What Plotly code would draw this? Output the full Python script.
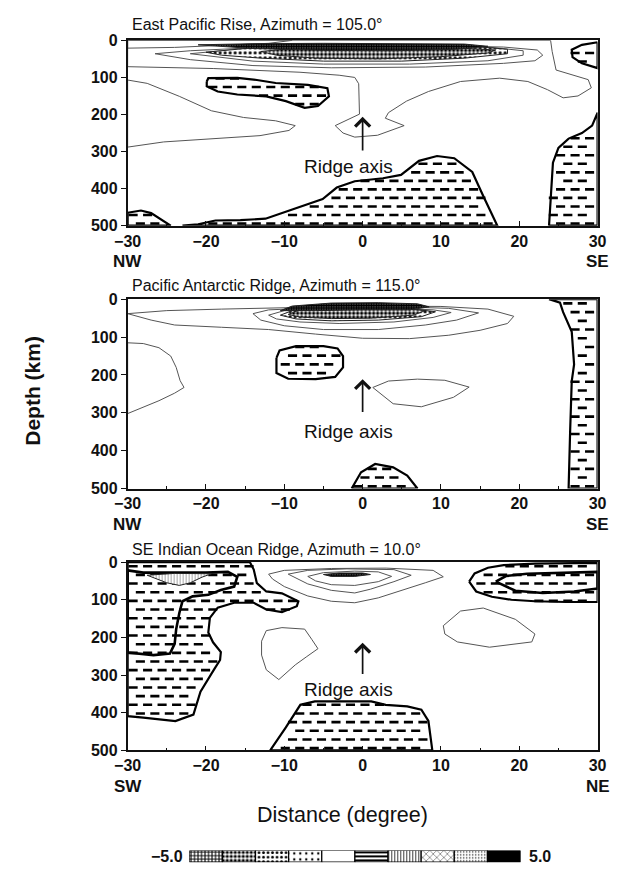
import plotly.graph_objects as go

# ---------------------------------------------------------------------------
# Contour outlines of the velocity anomaly, (distance in degrees, depth in km)
# ---------------------------------------------------------------------------

# East Pacific Rise, azimuth 105
p1_surface = [(-30, 0), (-30, 21), (-24, 19), (-18, 14), (-12, 8), (-9, 0)]
p1_outer = [(-30, 0), (-30, 71), (-19, 76), (-8, 86), (-3, 94), (-1, 100), (-0.5, 117),
            (-0.4, 160), (-0.4, 199), (-3.5, 230), (-2.5, 250), (-1, 261), (1.9, 256),
            (5.3, 230), (2.9, 210), (3.3, 195), (5.6, 164), (8.4, 138), (12.5, 111),
            (17.5, 102), (21.1, 111), (23.6, 133), (25.6, 155), (27.5, 150), (29.2, 128),
            (28.8, 106), (24.7, 80), (24.2, 30), (24.0, 0)]
p1_lens_a = [(-26.5, 36), (-22, 28), (-14, 20), (-4, 16), (8, 14), (18, 18), (22.3, 26),
             (23, 40), (22, 55), (18, 62), (8, 72), (-4, 74), (-14, 68), (-22, 52)]
p1_lens_b = [(-22, 36), (-16, 24), (-6, 16), (6, 14), (16, 18), (20.5, 28), (20.5, 40),
             (16, 55), (6, 64), (-5, 64), (-14, 56)]
p1_lens_c = [(-20, 32), (-14, 20), (-5, 14), (5, 13), (14, 16), (18.5, 24), (18.5, 36),
             (13, 48), (5, 56), (-5, 56), (-13, 48), (-18, 40)]
p1_lens_d = [(-13, 30), (-8, 20), (0, 16), (10, 18), (17, 26), (16, 34), (10, 44),
             (2, 50), (-6, 48), (-11, 40)]
p1_core = [(-21, 12), (-14, 9), (-5, 8), (5, 8), (13, 10), (16, 16), (12, 24), (4, 28),
           (-5, 27), (-14, 22)]
p1_tongue = [(-30, 107), (-27.5, 116), (-23.4, 151), (-19.3, 190), (-15.2, 208),
             (-11.1, 217), (-8.6, 230), (-9.4, 243), (-13.1, 257), (-19.3, 265),
             (-25.4, 274), (-30, 288)]
p1_pos_blob = [(-19.9, 111), (-19.7, 102), (-16, 101), (-13.5, 107), (-11.1, 115),
               (-7, 120), (-4.5, 129), (-4.3, 151), (-5.7, 177), (-7.4, 182),
               (-9.8, 164), (-12.3, 151), (-16, 146), (-18.5, 138), (-19.9, 124)]
p1_pos_corner = [(-30, 465), (-28.3, 459), (-27, 466), (-25.2, 490), (-24.5, 500), (-30, 500)]
p1_pos_bottom = [(-23, 500), (-21, 496), (-18.8, 486), (-15.6, 485), (-12.4, 481),
                 (-8.8, 455), (-5.1, 428), (-3.3, 397), (-1, 380), (2.6, 372),
                 (4.9, 363), (7.2, 325), (9.5, 312), (11.7, 318), (14, 355),
                 (15.4, 420), (16.7, 480), (17.2, 500)]
p1_pos_right = [(23.8, 500), (24.0, 420), (24.3, 330), (25, 290), (26.3, 265), (28, 250),
                (29.3, 230), (30, 195), (30, 500)]
p1_pos_topright = [(30, 5), (28, 12), (26.7, 25), (26.8, 45), (28, 62), (30, 75)]

# Pacific Antarctic Ridge, azimuth 115
p2_lens_a = [(-30, 38), (-25, 30), (-18, 26), (-10, 22), (0, 18), (10, 19), (16, 26),
             (19.3, 45), (18.5, 64), (15, 82), (11, 95), (6, 104), (0, 103), (-6, 92),
             (-12, 80), (-18, 74), (-24, 68), (-27, 55)]
p2_lens_b = [(-14, 38), (-12, 28), (-5, 22), (5, 20), (11, 24), (14.8, 36), (12, 55),
             (8, 68), (2, 80), (-5, 80), (-10, 70), (-13, 55)]
p2_lens_c = [(-12, 42), (-10, 30), (-4, 25), (5, 24), (9, 28), (11.3, 35), (9, 48),
             (4, 60), (-3, 64), (-8, 60), (-11, 52)]
p2_lens_d = [(-10.5, 42), (-9, 30), (-3, 22), (5, 22), (9.3, 33), (7.5, 46), (2, 55),
             (-4, 57), (-8.5, 52)]
p2_lens_e = [(-9.5, 40), (-8, 28), (-2, 22), (4, 22), (8, 30), (6.5, 42), (1, 50),
             (-4, 51), (-8, 47)]
p2_core = [(-10.5, 30), (-9, 18), (-4, 10), (2, 9), (7, 12), (8.5, 20), (6, 28), (0, 28),
           (-6, 30)]
p2_left = [(-30, 115), (-28, 117), (-26, 128), (-24.5, 150), (-23.8, 180), (-23.3, 215),
           (-22.8, 233), (-24, 248), (-26, 268), (-28.5, 290), (-30, 302)]
p2_right_lens = [(1.3, 233), (3.3, 216), (7, 211), (10.5, 214), (13.6, 232), (11.6, 259),
                 (7.5, 284), (3.9, 276)]
p2_pos_blob = [(-11, 155), (-10.6, 135), (-8.5, 124), (-5, 124), (-3.2, 130), (-2.5, 150),
               (-2.5, 180), (-3.5, 205), (-6, 211), (-9.5, 210), (-11, 195)]
p2_pos_bottom = [(-1.4, 500), (-0.2, 457), (1.6, 435), (3.9, 444), (5.7, 466), (7, 500)]
p2_pos_strip = [(23.8, 0), (25.2, 9), (25.6, 34), (26.7, 86), (27, 172), (26.7, 216),
                (26.5, 345), (26.3, 500), (30, 500), (30, 0)]

# SE Indian Ocean Ridge, azimuth 10
p3_lens_a = [(-12, 32), (-10, 22), (-4, 17), (3, 16), (9, 22), (10.3, 39), (8, 55),
             (5, 75), (2, 95), (-1, 108), (-4, 104), (-7, 90), (-10, 65), (-11.5, 45)]
p3_lens_b = [(-9.5, 32), (-7, 22), (-2, 18), (4, 20), (6.2, 35), (4, 52), (1, 72),
             (-1, 82), (-4, 75), (-7, 58)]
p3_lens_c = [(-7, 38), (-5, 28), (-1, 24), (2, 26), (3.7, 38), (2, 52), (-1, 62),
             (-4, 60), (-6, 50)]
p3_core = [(-5, 33), (-3, 29), (0, 29), (1, 33), (-1, 38), (-4, 38)]
p3_left_lens = [(-12.9, 210), (-12.3, 182), (-10.3, 174), (-7.4, 178), (-6.5, 205),
                (-5.7, 230), (-7.2, 252), (-8.6, 273), (-10.7, 312), (-12.3, 286),
                (-12.9, 247)]
p3_right_lens = [(10.3, 169), (12.5, 130), (15.4, 122), (19.5, 152), (22, 191),
                 (21.6, 212), (16.2, 226), (12.1, 212), (10.5, 191)]
p3_pos_left = [(-30, 0), (-14.4, 0), (-13.9, 20), (-13.5, 56), (-12.3, 78), (-10.3, 83),
               (-8.2, 104), (-8.4, 117), (-10.3, 133), (-12.3, 126), (-13.9, 108),
               (-16.4, 108), (-18.5, 121), (-19.5, 148), (-19.7, 187), (-19.1, 213),
               (-18.1, 239), (-18.2, 260), (-18.9, 283), (-20.7, 344), (-21.6, 405),
               (-23.9, 422), (-28, 413), (-30, 409)]
p3_inner_left = [(-30, 22), (-28, 28), (-20, 28), (-17.2, 26), (-16, 39), (-16.4, 65),
                 (-18.1, 74), (-19.7, 87), (-21.7, 91), (-23, 104), (-23.4, 135),
                 (-23.8, 178), (-24, 217), (-24.6, 243), (-26.7, 247), (-28.3, 243),
                 (-30, 240)]
p3_gray_lens = [(-27.5, 35), (-24, 30), (-19.3, 31), (-20.5, 40), (-22, 55), (-23.4, 62),
                (-25, 55), (-26.5, 44)]
p3_pos_right = [(13.6, 52), (14.3, 30), (16, 15), (18, 8), (22, 4), (27, 3), (30, 2),
                (30, 106), (26, 106), (22, 104), (19, 100), (16.5, 92), (14.5, 78)]
p3_inner_right = [(17, 52), (18.3, 37), (21, 31), (25, 28), (30, 26), (30, 70), (27, 78),
                  (23, 82), (19.5, 76)]
p3_pos_bottom = [(-11.8, 500), (-9.8, 439), (-7.95, 379), (-6.1, 370), (1.1, 370),
                 (2.95, 379), (5.7, 383), (7.5, 392), (8.4, 422), (8.9, 500)]

# Panel titles, end labels and ridge-axis marker (tip depth, tail depth, label depth)
panel_titles = ["East Pacific Rise, Azimuth = 105.0°",
                "Pacific Antarctic Ridge, Azimuth = 115.0°",
                "SE Indian Ocean Ridge, Azimuth = 10.0°"]
end_labels = [("NW", "SE"), ("NW", "SE"), ("SW", "NE")]
ridge_arrow = [(206, 301, 339), (211, 302, 350), (214, 301, 338)]

x_ticks = [-30, -20, -10, 0, 10, 20, 30]
depth_ticks = [0, 100, 200, 300, 400, 500]

# Scale of the shading classes
scale_edges = [-5.0, 5.0]
scale_mid = [-4.5, -3.5, -2.5, -1.5, -0.5, 0.5, 1.5, 2.5, 3.5, 4.5]
scale_shape = ["+", ".", ".", ".", "", "-", "|", "x", ".", ""]
scale_size = [3.5, 4, 4.5, 6, 8, 4, 3, 5, 3, 8]
scale_solid = [0.5, 0.5, 0.3, 0.12, 0.2, 0.5, 0.25, 0.15, 0.15, 0.2]
scale_color = ["white"] * 9 + ["black"]

# ---------------------------------------------------------------------------
W, H = 622, 880
PX0, PX1 = 118, 606
panel_rows = [(33, 222), (297, 490), (565, 757)]
title_rows = [17, 283, 552]
INK = "#111111"
FONT = "Liberation Sans"


def sfx(k):
    return "" if k == 1 else str(k)


def closed(poly):
    pts = list(poly) + [poly[0]]
    return [p[0] for p in pts], [p[1] for p in pts]


def inside(poly, x, y):
    c = False
    j = len(poly) - 1
    for i in range(len(poly)):
        xi, yi = poly[i]
        xj, yj = poly[j]
        if (yi > y) != (yj > y) and x < (xj - xi) * (y - yi) / (yj - yi) + xi:
            c = not c
        j = i
    return c


fig = go.Figure()


def outline(poly, k, width=1.0, color="#555555"):
    xs, ys = closed(poly)
    fig.add_trace(go.Scatter(x=xs, y=ys, mode="lines", line=dict(color=color, width=width),
                             xaxis="x" + sfx(k), yaxis="y" + sfx(k), hoverinfo="skip",
                             showlegend=False))


def patterned(poly, k, shape, size, solidity, width=1.0, fg="black", bg="white",
              line_color="#222222"):
    xs, ys = closed(poly)
    fig.add_trace(go.Scatter(x=xs, y=ys, mode="lines", fill="toself", fillcolor=bg,
                             fillpattern=dict(shape=shape, size=size, solidity=solidity,
                                              fgcolor=fg, bgcolor=bg, fillmode="replace"),
                             line=dict(color=line_color, width=width),
                             xaxis="x" + sfx(k), yaxis="y" + sfx(k), hoverinfo="skip",
                             showlegend=False))


def dashed_region(poly, k):
    """Outline a positive-anomaly region and texture it with short dashes."""
    xs, ys = closed(poly)
    fig.add_trace(go.Scatter(x=xs, y=ys, mode="lines", fill="toself", fillcolor="white",
                             line=dict(color="black", width=2.2),
                             xaxis="x" + sfx(k), yaxis="y" + sfx(k), hoverinfo="skip",
                             showlegend=False))
    dx, dy = [], []
    step = 1.85
    half = 0.3
    for r in range(23):
        d = 11 + r * 23
        off = step / 2 if r % 2 else 0.0
        for c in range(34):
            x = -30 + 0.7 + off + c * step
            if inside(poly, x - half, d) and inside(poly, x + half, d):
                dx.append(x)
                dy.append(d)
    fig.add_trace(go.Scatter(x=dx, y=dy, mode="markers",
                             marker=dict(symbol="line-ew", size=6.5,
                                         line=dict(color="black", width=2.6)),
                             xaxis="x" + sfx(k), yaxis="y" + sfx(k), hoverinfo="skip",
                             showlegend=False))


# --- panel 1 ---
outline(p1_surface, 1)
outline(p1_outer, 1)
outline(p1_tongue, 1)
outline(p1_lens_a, 1)
outline(p1_lens_b, 1)
patterned(p1_lens_c, 1, ".", 5, 0.3)
patterned(p1_lens_d, 1, ".", 4, 0.55)
patterned(p1_core, 1, "+", 2.5, 0.9)
for poly in (p1_pos_blob, p1_pos_corner, p1_pos_bottom, p1_pos_right, p1_pos_topright):
    dashed_region(poly, 1)

# --- panel 2 ---
outline(p2_lens_a, 2)
outline(p2_lens_b, 2)
outline(p2_lens_c, 2)
patterned(p2_lens_d, 2, ".", 5, 0.3)
patterned(p2_lens_e, 2, ".", 4, 0.55)
patterned(p2_core, 2, "+", 2.5, 0.92)
outline(p2_left, 2)
outline(p2_right_lens, 2)
for poly in (p2_pos_blob, p2_pos_bottom, p2_pos_strip):
    dashed_region(poly, 2)

# --- panel 3 ---
outline(p3_lens_a, 3)
outline(p3_lens_b, 3)
outline(p3_lens_c, 3)
patterned(p3_core, 3, "+", 2.5, 0.92)
outline(p3_left_lens, 3)
outline(p3_right_lens, 3)
for poly in (p3_pos_left, p3_pos_right, p3_pos_bottom):
    dashed_region(poly, 3)
outline(p3_inner_left, 3, width=2.6, color="black")
outline(p3_inner_right, 3, width=2.6, color="black")
patterned(p3_gray_lens, 3, "|", 3, 0.25, width=1.0, fg="#888888")

# --- shading scale: one box per class, drawn on its own axis ---
for m, shp, sz, sol, col in zip(scale_mid, scale_shape, scale_size, scale_solid,
                                scale_color):
    bx = [m - 0.5, m + 0.5, m + 0.5, m - 0.5, m - 0.5]
    by = [0, 0, 1, 1, 0]
    kw = dict(x=bx, y=by, mode="lines", fill="toself", fillcolor=col,
              line=dict(color="black", width=1.2), xaxis="x4", yaxis="y4",
              hoverinfo="skip", showlegend=False)
    if shp:
        kw["fillpattern"] = dict(shape=shp, size=sz, solidity=sol, fgcolor="black",
                                 bgcolor=col, fillmode="replace")
    fig.add_trace(go.Scatter(**kw))

# --- layout ---
layout = dict(width=W, height=H, margin=dict(l=0, r=0, t=0, b=0),
              paper_bgcolor="white", plot_bgcolor="white",
              font=dict(family=FONT, color=INK))
annotations = []
xdom = [PX0 / W, PX1 / W]
tick_font = dict(family=FONT, size=16, color=INK, weight="bold")
for i, (top, bot) in enumerate(panel_rows, start=1):
    s = sfx(i)
    ydom = [1 - bot / H, 1 - top / H]
    layout["xaxis" + s] = dict(
        domain=xdom, range=[-30, 30], anchor="y" + s, tickvals=x_ticks,
        ticks="inside", ticklen=5, tickwidth=1, tickcolor=INK,
        minor=dict(dtick=5, tick0=0, ticks="inside", ticklen=3, tickcolor=INK),
        showline=True, mirror=True, linecolor=INK, linewidth=1.5,
        showgrid=False, zeroline=False, tickfont=tick_font)
    layout["yaxis" + s] = dict(
        domain=ydom, range=[500, 0], anchor="x" + s, tickvals=depth_ticks,
        ticks="outside", ticklen=5, tickwidth=1, tickcolor=INK,
        showline=True, mirror=True, linecolor=INK, linewidth=1.5,
        showgrid=False, zeroline=False, tickfont=tick_font)
    annotations.append(dict(text=panel_titles[i - 1], xref="paper", yref="paper",
                            x=(PX0 + 2) / W, y=1 - title_rows[i - 1] / H, xanchor="left",
                            yanchor="middle", showarrow=False,
                            font=dict(family=FONT, size=16, color=INK)))
    left, right = end_labels[i - 1]
    for lab, xpos in ((left, 0), (right, 1)):
        annotations.append(dict(text=lab, xref="x" + s + " domain", yref="paper", x=xpos,
                                y=1 - (bot + 37) / H, xanchor="center", yanchor="middle",
                                showarrow=False,
                                font=dict(family=FONT, size=17, color=INK, weight="bold")))
    tip, tail, lab_d = ridge_arrow[i - 1]
    annotations.append(dict(text="", x=0, y=tip, ax=0, ay=tail, xref="x" + s, yref="y" + s,
                            axref="x" + s, ayref="y" + s, showarrow=True, arrowhead=4,
                            arrowsize=1.7, arrowwidth=1.7, arrowcolor=INK))
    annotations.append(dict(text="Ridge axis", x=0, y=lab_d, xref="x" + s, yref="y" + s,
                            showarrow=False, xanchor="center", yanchor="middle",
                            xshift=-14, font=dict(family=FONT, size=19, color=INK)))

layout["xaxis4"] = dict(domain=[182 / W, 526 / W], range=scale_edges, anchor="y4",
                        visible=False, fixedrange=True)
layout["yaxis4"] = dict(domain=[1 - 871 / H, 1 - 859 / H], range=[0, 1], anchor="x4",
                        visible=False, fixedrange=True)
annotations.append(dict(text=f"{scale_edges[0]:.1f}".replace("-", "−"), x=scale_edges[0],
                        y=0.5, xref="x4", yref="y4", xanchor="right", xshift=-4,
                        showarrow=False, font=dict(family=FONT, size=16, color=INK,
                                                   weight="bold")))
annotations.append(dict(text=f"{scale_edges[1]:.1f}", x=scale_edges[1], y=0.5, xref="x4",
                        yref="y4", xanchor="left", xshift=6, showarrow=False,
                        font=dict(family=FONT, size=16, color=INK, weight="bold")))

annotations.append(dict(text="Depth (km)", xref="paper", yref="paper", x=19 / W,
                        y=1 - 390 / H, textangle=-90, showarrow=False,
                        xanchor="center", yanchor="middle",
                        font=dict(family=FONT, size=21, color=INK, weight="bold")))
annotations.append(dict(text="Distance (degree)", xref="paper", yref="paper",
                        x=341 / W, y=1 - 823 / H, showarrow=False,
                        xanchor="center", yanchor="middle",
                        font=dict(family=FONT, size=21.5, color=INK)))
layout["annotations"] = annotations

fig.update_layout(**layout)
fig.write_html("out.html")
